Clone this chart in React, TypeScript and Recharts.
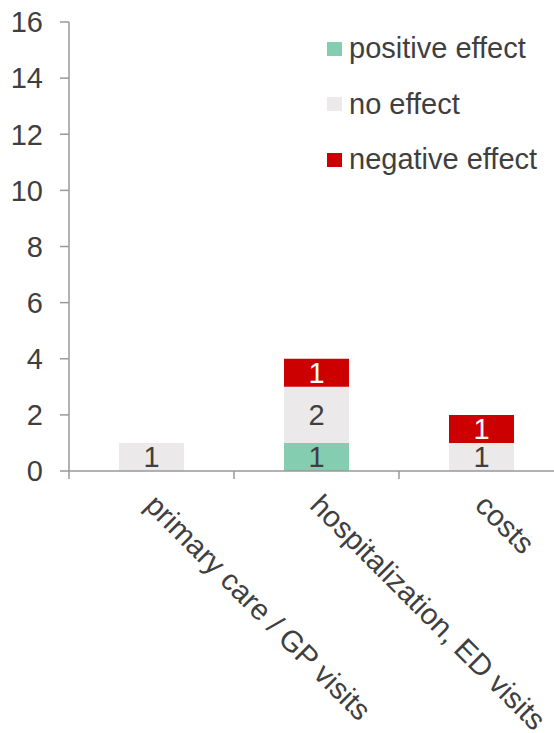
import React from "react";
import { BarChart, Bar, XAxis, YAxis, LabelList } from "recharts";

const categories = ["primary care / GP visits", "hospitalization, ED visits", "costs"];
const positiveEffect = [0, 1, 0];
const noEffect = [1, 2, 1];
const negativeEffect = [0, 1, 1];
const yTicks = [0, 2, 4, 6, 8, 10, 12, 14, 16];

const seriesInfo = [
  { key: "positive", name: "positive effect", color: "#84CDB0", labelColor: "#3f3f3f" },
  { key: "none", name: "no effect", color: "#EBE9EA", labelColor: "#3f3f3f" },
  { key: "negative", name: "negative effect", color: "#CC0000", labelColor: "#ffffff" },
];

const data = categories.map((c, i) => ({
  category: c,
  positive: positiveEffect[i],
  none: noEffect[i],
  negative: negativeEffect[i],
}));

const FONT = "'Liberation Sans', Arial, sans-serif";
const TEXT = "#3f3f3f";
const AXIS = "#999999";
const FS = 29;

const CategoryTick = (props: any) => {
  const { x, y, payload } = props;
  const off = payload && typeof payload.offset === "number" ? payload.offset : 82.5;
  const tx = x - 8;
  const ty = y + 28;
  return (
    <g>
      <line x1={x - off} x2={x - off} y1={y - 8} y2={y} stroke={AXIS} strokeWidth={1.5} />
      <text
        x={tx}
        y={ty}
        transform={`rotate(45, ${tx}, ${ty})`}
        textAnchor="start"
        fontSize={29.5}
        fontFamily={FONT}
        fill={TEXT}
      >
        {payload.value}
      </text>
    </g>
  );
};

const makeLabel = (color: string) => (props: any) => {
  const { x, y, width, height, value } = props;
  if (!value) return null;
  return (
    <text
      x={x + width / 2}
      y={y + height / 2}
      dy="0.36em"
      textAnchor="middle"
      fontSize={FS}
      fontFamily={FONT}
      fill={color}
    >
      {value}
    </text>
  );
};

const LegendBox = () => (
  <div style={{ position: "absolute", left: 327, top: 21, fontFamily: FONT, fontSize: FS, color: TEXT }}>
    {seriesInfo.map((s) => (
      <div key={s.key} style={{ display: "flex", alignItems: "center", height: 55.5 }}>
        <div style={{ width: 15, height: 14, background: s.color, marginRight: 7 }} />
        <span style={{ lineHeight: "29px", whiteSpace: "nowrap" }}>{s.name}</span>
      </div>
    ))}
  </div>
);

export default function App() {
  return (
    <div style={{ position: "absolute", left: 0, top: 0, width: 554, height: 733, overflow: "hidden", background: "#fff" }}>
      <BarChart
        width={600}
        height={733}
        data={data}
        margin={{ top: 22, right: 36, bottom: 0, left: 0 }}
        barSize={65}
      >
        <YAxis
          width={69}
          domain={[0, 16]}
          ticks={yTicks}
          interval={0}
          tickSize={9}
          tickMargin={17}
          axisLine={{ stroke: AXIS, strokeWidth: 1.5 }}
          tickLine={{ stroke: AXIS, strokeWidth: 1.5 }}
          tick={{ fill: TEXT, fontSize: FS, fontFamily: FONT }}
        />
        <XAxis
          dataKey="category"
          height={262}
          interval={0}
          tickSize={8}
          tickMargin={0}
          tickLine={false}
          axisLine={{ stroke: AXIS, strokeWidth: 1.5 }}
          tick={<CategoryTick />}
        />
        {seriesInfo.map((s) => (
          <Bar key={s.key} dataKey={s.key} name={s.name} stackId="a" fill={s.color} isAnimationActive={false}>
            <LabelList dataKey={s.key} content={makeLabel(s.labelColor)} />
          </Bar>
        ))}
      </BarChart>
      <LegendBox />
    </div>
  );
}
